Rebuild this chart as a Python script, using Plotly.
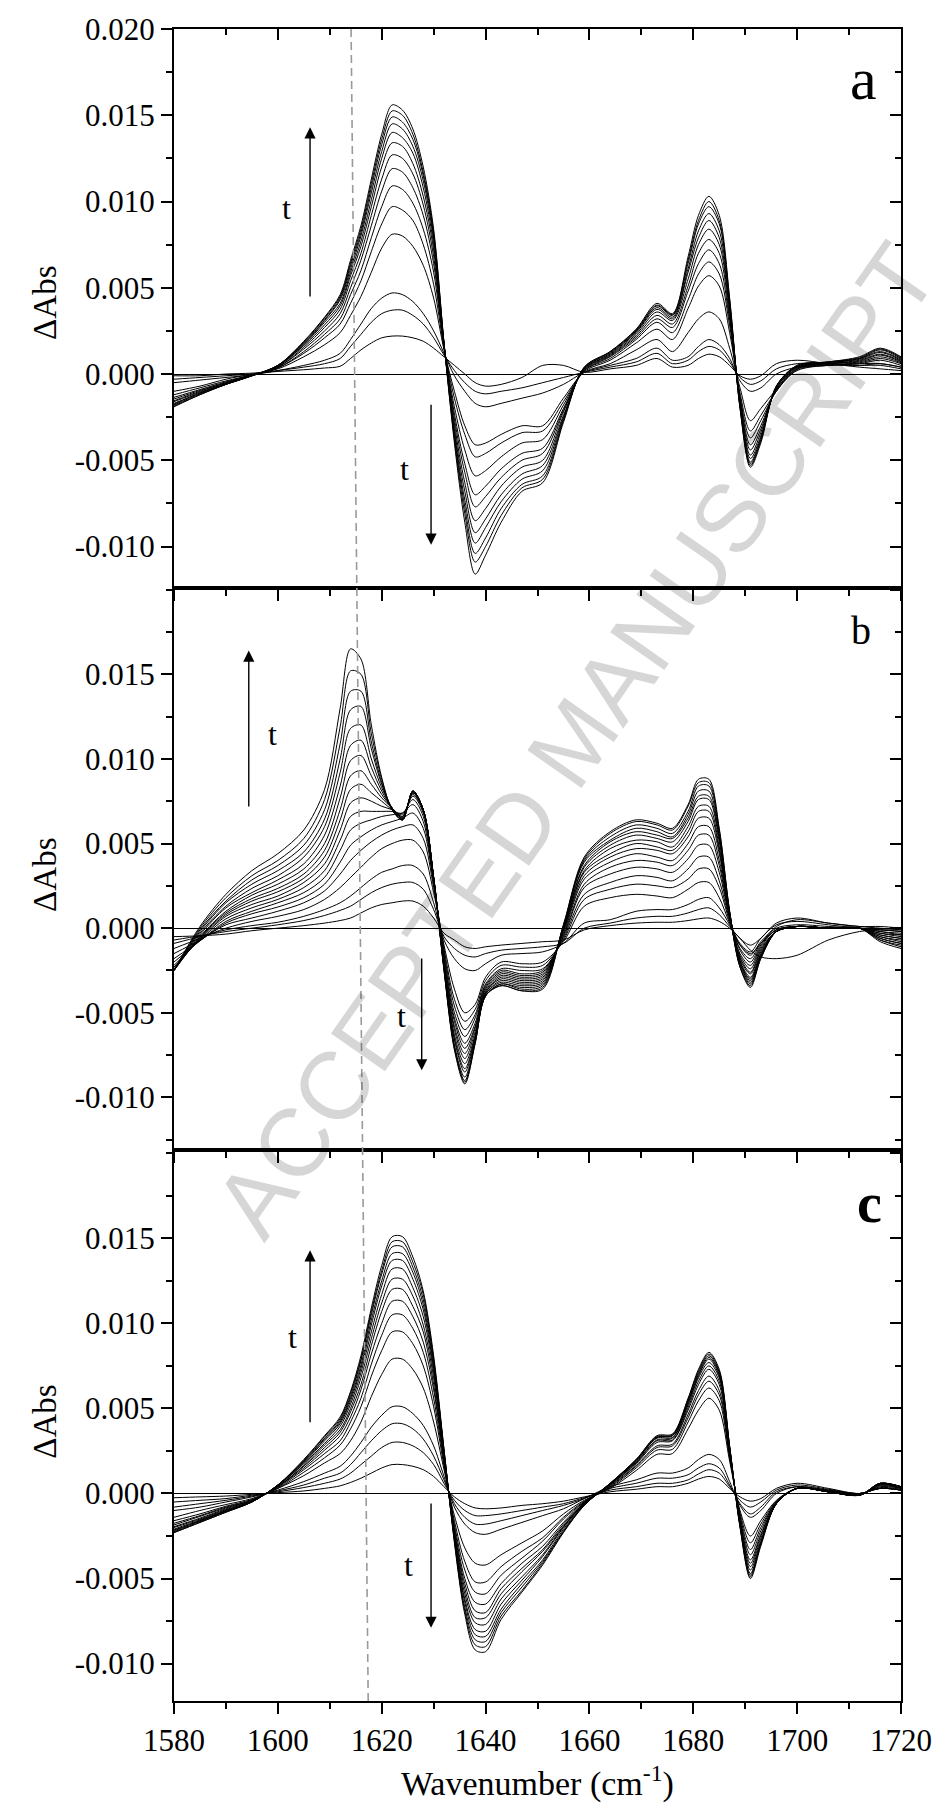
import plotly.graph_objects as go

# ---------------- data (values in units of 1e-3 Abs) ----------------
wavenumber = [1580, 1585, 1590, 1595, 1600, 1605, 1609, 1612, 1614,
              1616, 1618, 1620, 1622, 1624, 1626, 1628, 1630, 1632,
              1634, 1636, 1638, 1640, 1643, 1647, 1651, 1655, 1659,
              1664, 1669, 1673, 1676, 1679, 1681, 1683, 1685, 1687,
              1689, 1691, 1693, 1696, 1700, 1706, 1712, 1716, 1720]

# panel a
a01 = [-0.1, -0.1, 0.0, 0.05, 0.15, 0.25, 0.35, 0.45, 0.9, 1.4, 1.8, 2.1, 2.2, 2.2, 2.1, 1.9, 1.5, 1.0, 0.5, 0.0, -0.5, -0.7, -0.6, -0.2, 0.5, 0.5, 0.1, 0.3, 0.5, 0.9, 0.4, 0.5, 0.9, 1.15, 1.0, 0.5, -0.1, -0.3, -0.1, 0.6, 0.8, 0.6, 0.4, 0.3, 0.2]
a02 = [-0.3, -0.2, -0.1, 0.0, 0.2, 0.4, 0.6, 0.9, 1.6, 2.3, 3.0, 3.5, 3.7, 3.7, 3.4, 2.9, 2.1, 1.1, 0.2, -0.5, -1.0, -1.15, -1.0, -0.8, -0.5, -0.2, 0.1, 0.4, 0.7, 1.2, 0.6, 0.8, 1.3, 1.6, 1.4, 0.7, -0.2, -0.6, -0.4, 0.3, 0.6, 0.6, 0.5, 0.5, 0.3]
a03 = [-0.5, -0.35, -0.2, -0.05, 0.2, 0.5, 0.8, 1.2, 2.0, 2.9, 3.8, 4.4, 4.7, 4.6, 4.2, 3.5, 2.5, 1.2, -0.1, -1.0, -1.7, -1.9, -1.7, -1.4, -1.1, -0.6, 0.1, 0.5, 0.9, 1.5, 0.8, 1.0, 1.6, 2.0, 1.7, 0.9, -0.4, -1.0, -0.8, 0.0, 0.4, 0.5, 0.6, 0.6, 0.4]
a04 = [-1.0, -0.7, -0.3, 0.0, 0.3, 1.0, 1.7, 2.4, 3.4, 4.5, 5.9, 7.3, 8.1, 8.0, 7.4, 6.3, 4.4, 1.4, -1.0, -3.0, -4.1, -4.0, -3.5, -3.0, -3.0, -1.4, 0.1, 0.6, 1.4, 2.0, 1.3, 2.4, 3.2, 3.6, 3.2, 1.5, -0.8, -2.7, -2.0, -0.9, 0.2, 0.5, 0.5, 0.6, 0.4]
a05 = [-1.2, -0.8, -0.4, -0.05, 0.35, 1.2, 2.1, 2.9, 4.1, 5.4, 7.1, 8.7, 9.7, 9.5, 8.9, 7.5, 5.2, 1.5, -1.4, -3.5, -4.8, -4.6, -4.0, -3.4, -3.3, -1.6, 0.15, 0.8, 1.8, 2.6, 2.0, 3.8, 5.1, 5.7, 5.1, 2.4, -1.1, -3.3, -2.4, -1.0, 0.25, 0.5, 0.6, 0.8, 0.5]
a06 = [-1.35, -0.9, -0.45, -0.05, 0.35, 1.3, 2.3, 3.2, 4.6, 6.0, 7.9, 9.7, 10.9, 10.7, 9.9, 8.4, 5.9, 1.55, -1.9, -4.4, -5.9, -5.6, -4.8, -4.0, -3.8, -1.8, 0.2, 0.9, 2.0, 3.0, 2.4, 4.3, 5.8, 6.5, 5.8, 2.8, -1.3, -3.7, -2.7, -1.0, 0.3, 0.55, 0.65, 0.9, 0.6]
a07 = [-1.45, -0.95, -0.5, -0.05, 0.4, 1.45, 2.5, 3.5, 5.0, 6.6, 8.6, 10.6, 11.9, 11.7, 10.8, 9.2, 6.4, 1.6, -2.3, -5.2, -7.0, -6.5, -5.5, -4.6, -4.3, -2.0, 0.2, 1.0, 2.1, 3.2, 2.7, 4.8, 6.4, 7.2, 6.4, 3.1, -1.4, -4.1, -3.0, -0.9, 0.3, 0.6, 0.7, 1.0, 0.65]
a08 = [-1.55, -1.0, -0.5, -0.1, 0.4, 1.55, 2.7, 3.75, 5.4, 7.0, 9.2, 11.3, 12.7, 12.5, 11.6, 9.8, 6.8, 1.65, -2.6, -5.7, -7.7, -7.1, -6.0, -5.0, -4.6, -2.1, 0.25, 1.05, 2.2, 3.4, 2.9, 5.1, 7.0, 7.8, 7.0, 3.3, -1.5, -4.4, -3.2, -0.9, 0.35, 0.6, 0.75, 1.1, 0.7]
a09 = [-1.6, -1.05, -0.55, -0.1, 0.45, 1.65, 2.85, 3.95, 5.7, 7.4, 9.7, 12.0, 13.4, 13.2, 12.2, 10.3, 7.2, 1.7, -2.9, -6.3, -8.5, -7.8, -6.5, -5.4, -5.0, -2.2, 0.3, 1.1, 2.3, 3.6, 3.1, 5.5, 7.5, 8.4, 7.5, 3.6, -1.6, -4.7, -3.4, -0.8, 0.4, 0.6, 0.8, 1.15, 0.75]
a10 = [-1.7, -1.1, -0.55, -0.1, 0.45, 1.7, 3.0, 4.1, 5.9, 7.7, 10.1, 12.5, 14.0, 13.7, 12.8, 10.8, 7.5, 1.7, -3.2, -6.8, -9.2, -8.4, -7.0, -5.8, -5.3, -2.4, 0.3, 1.15, 2.4, 3.75, 3.2, 5.9, 7.9, 8.9, 7.9, 3.8, -1.7, -4.9, -3.6, -0.8, 0.4, 0.65, 0.85, 1.25, 0.8]
a11 = [-1.75, -1.1, -0.6, -0.1, 0.5, 1.75, 3.1, 4.3, 6.1, 8.0, 10.5, 12.9, 14.5, 14.2, 13.2, 11.2, 7.8, 1.75, -3.4, -7.3, -9.8, -8.9, -7.4, -6.1, -5.6, -2.5, 0.35, 1.2, 2.45, 3.85, 3.3, 6.1, 8.3, 9.3, 8.3, 4.0, -1.8, -5.1, -3.7, -0.8, 0.45, 0.65, 0.9, 1.3, 0.85]
a12 = [-1.8, -1.15, -0.6, -0.1, 0.5, 1.8, 3.15, 4.4, 6.3, 8.2, 10.8, 13.3, 14.9, 14.6, 13.6, 11.5, 8.0, 1.75, -3.6, -7.7, -10.4, -9.5, -7.8, -6.4, -5.9, -2.6, 0.35, 1.25, 2.5, 3.95, 3.4, 6.4, 8.7, 9.7, 8.7, 4.1, -1.9, -5.2, -3.8, -0.7, 0.45, 0.7, 0.9, 1.4, 0.9]
a13 = [-1.85, -1.2, -0.6, -0.1, 0.5, 1.85, 3.25, 4.5, 6.45, 8.4, 11.05, 13.6, 15.25, 15.0, 13.9, 11.7, 8.2, 1.8, -3.8, -8.1, -10.9, -10.0, -8.2, -6.6, -6.1, -2.7, 0.4, 1.3, 2.55, 4.0, 3.45, 6.6, 8.9, 10.0, 8.9, 4.3, -1.95, -5.3, -3.9, -0.7, 0.5, 0.7, 0.95, 1.45, 0.95]
a14 = [-1.9, -1.2, -0.6, -0.1, 0.5, 1.9, 3.3, 4.6, 6.6, 8.6, 11.3, 13.9, 15.6, 15.3, 14.2, 12.0, 8.4, 1.8, -4.0, -8.6, -11.6, -10.5, -8.6, -6.8, -6.3, -2.8, 0.4, 1.3, 2.6, 4.1, 3.5, 6.8, 9.2, 10.3, 9.2, 4.4, -2.0, -5.4, -4.0, -0.7, 0.5, 0.7, 1.0, 1.5, 1.0]

# panel b
b01 = [-0.5, -0.45, -0.35, -0.15, 0.0, 0.15, 0.3, 0.45, 0.6, 0.9, 1.2, 1.4, 1.5, 1.6, 1.6, 1.3, 0.6, -0.3, -0.7, -1.1, -1.2, -1.1, -1.0, -0.9, -0.8, -0.7, -0.1, 0.15, 0.3, 0.35, 0.35, 0.45, 0.55, 0.6, 0.4, 0.0, -0.6, -1.3, -1.7, -1.8, -1.6, -0.7, -0.2, -0.1, -0.2]
b02 = [-0.7, -0.45, -0.2, 0.0, 0.2, 0.45, 0.75, 1.05, 1.3, 1.7, 2.1, 2.4, 2.6, 2.7, 2.7, 2.3, 1.1, -0.5, -1.2, -1.6, -1.7, -1.5, -1.3, -1.2, -1.1, -0.9, 0.0, 0.3, 0.6, 0.7, 0.7, 0.9, 1.1, 1.2, 0.8, 0.1, -0.6, -1.0, -0.6, 0.3, 0.6, 0.3, 0.1, 0.1, 0.0]
b03 = [-0.9, -0.5, -0.1, 0.15, 0.35, 0.7, 1.1, 1.5, 1.9, 2.4, 2.9, 3.3, 3.5, 3.7, 3.7, 3.2, 1.5, -0.7, -1.8, -2.4, -2.5, -2.1, -1.6, -1.5, -1.4, -0.9, 0.3, 0.5, 1.0, 1.1, 1.1, 1.4, 1.7, 1.8, 1.2, 0.2, -1.0, -1.5, -0.9, 0.1, 0.5, 0.3, 0.1, 0.0, -0.1]
b04 = [-1.2, -0.6, 0.0, 0.4, 0.7, 1.1, 1.7, 2.4, 3.0, 3.6, 4.2, 4.7, 5.0, 5.2, 5.2, 4.5, 2.1, -1.0, -3.6, -5.0, -4.5, -2.9, -2.0, -2.1, -2.0, -0.8, 1.3, 1.8, 2.0, 1.9, 1.8, 2.3, 2.7, 2.7, 1.8, 0.3, -0.9, -1.4, -0.6, 0.2, 0.4, 0.2, 0.0, -0.1, -0.1]
b05 = [-1.5, -0.7, 0.2, 0.6, 1.0, 1.5, 2.2, 3.2, 4.0, 4.6, 5.1, 5.5, 5.8, 6.0, 6.1, 5.3, 2.4, -1.2, -4.2, -5.5, -4.8, -3.1, -2.2, -2.3, -2.2, -0.7, 1.7, 2.3, 2.6, 2.5, 2.4, 2.9, 3.5, 3.5, 2.4, 0.4, -1.0, -1.6, -0.8, 0.0, 0.2, 0.1, 0.0, -0.1, -0.2]
b06 = [-1.8, -0.75, 0.3, 0.85, 1.25, 1.8, 2.6, 3.9, 4.9, 5.4, 5.8, 6.1, 6.3, 6.5, 6.8, 5.9, 2.6, -1.4, -4.6, -6.0, -5.1, -3.3, -2.4, -2.5, -2.4, -0.6, 2.0, 2.7, 3.1, 3.0, 2.8, 3.5, 4.2, 4.2, 2.8, 0.5, -1.2, -1.8, -0.9, -0.1, 0.1, 0.0, 0.0, -0.2, -0.3]
b07 = [-2.0, -0.75, 0.4, 1.0, 1.5, 2.1, 3.0, 4.6, 5.8, 6.2, 6.4, 6.6, 6.7, 6.8, 7.3, 6.3, 2.7, -1.6, -5.0, -6.4, -5.3, -3.4, -2.5, -2.7, -2.5, -0.5, 2.4, 3.2, 3.6, 3.5, 3.3, 4.1, 4.9, 4.9, 3.3, 0.6, -1.3, -2.0, -1.0, -0.1, 0.1, 0.0, 0.0, -0.2, -0.4]
b08 = [-2.2, -0.7, 0.55, 1.2, 1.7, 2.4, 3.4, 5.2, 6.6, 6.9, 6.9, 6.9, 6.9, 6.8, 7.6, 6.6, 2.8, -1.8, -5.3, -6.8, -5.6, -3.5, -2.6, -2.8, -2.6, -0.4, 2.6, 3.6, 4.0, 3.9, 3.7, 4.6, 5.5, 5.5, 3.7, 0.6, -1.5, -2.2, -1.1, -0.1, 0.1, 0.0, 0.0, -0.3, -0.4]
b09 = [-2.3, -0.65, 0.7, 1.4, 1.9, 2.7, 3.8, 5.8, 7.4, 7.7, 7.5, 7.2, 7.0, 6.7, 7.8, 6.8, 2.9, -2.0, -5.5, -7.1, -5.8, -3.6, -2.7, -2.9, -2.7, -0.3, 2.9, 3.9, 4.4, 4.2, 4.0, 5.0, 6.0, 6.0, 4.0, 0.7, -1.6, -2.4, -1.2, -0.2, 0.1, 0.0, 0.0, -0.3, -0.5]
b10 = [-2.4, -0.6, 0.8, 1.6, 2.15, 2.95, 4.2, 6.4, 8.2, 8.5, 8.0, 7.5, 7.0, 6.6, 7.9, 6.9, 2.9, -2.1, -5.8, -7.4, -5.9, -3.7, -2.8, -3.0, -2.8, -0.2, 3.1, 4.2, 4.7, 4.6, 4.4, 5.4, 6.5, 6.5, 4.4, 0.7, -1.7, -2.6, -1.3, -0.2, 0.1, 0.0, 0.0, -0.4, -0.6]
b11 = [-2.5, -0.55, 0.9, 1.75, 2.35, 3.2, 4.6, 7.0, 9.0, 9.3, 8.5, 7.7, 7.1, 6.6, 8.0, 7.0, 3.0, -2.2, -6.0, -7.7, -6.1, -3.8, -2.9, -3.1, -2.9, -0.1, 3.3, 4.4, 5.0, 4.8, 4.6, 5.7, 6.9, 6.9, 4.6, 0.8, -1.8, -2.7, -1.4, -0.2, 0.1, 0.0, 0.0, -0.4, -0.6]
b12 = [-2.5, -0.5, 1.0, 1.95, 2.6, 3.5, 5.0, 7.7, 9.9, 10.2, 9.0, 7.9, 7.1, 6.5, 8.0, 7.0, 3.0, -2.2, -6.3, -8.0, -6.3, -3.8, -3.0, -3.2, -3.0, -0.1, 3.4, 4.7, 5.2, 5.1, 4.8, 6.0, 7.2, 7.2, 4.8, 0.8, -1.9, -2.9, -1.5, -0.2, 0.1, 0.0, 0.0, -0.5, -0.7]
b13 = [-2.5, -0.4, 1.2, 2.1, 2.85, 3.8, 5.5, 8.4, 10.8, 11.1, 9.5, 8.1, 7.1, 6.5, 8.0, 7.0, 3.0, -2.3, -6.5, -8.3, -6.4, -3.9, -3.1, -3.3, -3.1, 0.0, 3.6, 4.9, 5.5, 5.3, 5.1, 6.3, 7.6, 7.6, 5.1, 0.9, -2.0, -3.0, -1.6, -0.2, 0.1, 0.0, 0.0, -0.5, -0.8]
b14 = [-2.5, -0.3, 1.3, 2.35, 3.1, 4.2, 6.0, 9.2, 11.8, 12.0, 10.0, 8.3, 7.1, 6.5, 8.1, 7.0, 3.0, -2.3, -6.6, -8.5, -6.5, -3.9, -3.2, -3.4, -3.2, 0.0, 3.7, 5.1, 5.7, 5.5, 5.3, 6.5, 7.8, 7.8, 5.3, 0.9, -2.0, -3.1, -1.6, -0.2, 0.1, 0.0, 0.0, -0.6, -0.9]
b15 = [-2.5, -0.2, 1.5, 2.6, 3.4, 4.5, 6.45, 10.0, 12.9, 13.1, 10.6, 8.5, 7.1, 6.4, 8.1, 7.0, 3.0, -2.4, -6.9, -8.8, -6.6, -4.0, -3.3, -3.5, -3.3, 0.1, 3.9, 5.2, 5.9, 5.7, 5.4, 6.7, 8.1, 8.1, 5.4, 0.9, -2.1, -3.2, -1.7, -0.2, 0.1, 0.0, 0.0, -0.6, -0.9]
b16 = [-2.5, -0.1, 1.6, 2.85, 3.7, 4.9, 7.0, 10.9, 14.0, 14.0, 11.0, 8.6, 7.0, 6.4, 8.1, 7.0, 3.0, -2.4, -7.0, -9.0, -6.7, -4.0, -3.3, -3.6, -3.4, 0.1, 4.0, 5.4, 6.1, 5.9, 5.6, 6.9, 8.4, 8.4, 5.6, 0.9, -2.2, -3.3, -1.7, -0.2, 0.1, 0.0, 0.0, -0.7, -1.0]
b17 = [-2.5, 0.0, 1.8, 3.1, 4.0, 5.3, 7.6, 11.9, 15.2, 15.0, 11.5, 8.8, 7.0, 6.4, 8.1, 7.0, 3.0, -2.5, -7.1, -9.1, -6.8, -4.0, -3.4, -3.7, -3.5, 0.2, 4.1, 5.6, 6.3, 6.1, 5.8, 7.2, 8.6, 8.6, 5.8, 1.0, -2.3, -3.4, -1.8, -0.2, 0.1, 0.0, 0.0, -0.7, -1.1]
b18 = [-2.5, 0.1, 2.0, 3.4, 4.4, 5.8, 8.2, 13.0, 16.5, 15.9, 12.0, 8.9, 7.0, 6.4, 8.1, 7.0, 3.0, -2.5, -7.2, -9.2, -6.8, -4.0, -3.4, -3.7, -3.6, 0.2, 4.2, 5.7, 6.4, 6.2, 5.9, 7.3, 8.8, 8.8, 5.9, 1.0, -2.3, -3.5, -1.8, -0.2, 0.1, 0.0, 0.0, -0.8, -1.2]

# panel c
c01 = [-0.25, -0.2, -0.15, -0.05, 0.05, 0.15, 0.3, 0.45, 0.65, 0.9, 1.2, 1.5, 1.7, 1.7, 1.6, 1.4, 1.0, 0.4, -0.2, -0.6, -0.85, -0.9, -0.85, -0.7, -0.6, -0.45, -0.2, 0.1, 0.25, 0.4, 0.4, 0.6, 0.85, 1.0, 0.85, 0.3, -0.2, -0.45, -0.3, 0.3, 0.6, 0.3, 0.0, 0.3, 0.2]
c02 = [-0.5, -0.4, -0.3, -0.1, 0.1, 0.35, 0.6, 0.85, 1.2, 1.7, 2.2, 2.7, 3.0, 3.0, 2.8, 2.4, 1.7, 0.6, -0.4, -1.0, -1.3, -1.3, -1.2, -1.0, -0.8, -0.6, -0.25, 0.2, 0.4, 0.6, 0.6, 0.8, 1.15, 1.4, 1.2, 0.4, -0.4, -0.8, -0.5, 0.2, 0.5, 0.25, 0.0, 0.3, 0.2]
c03 = [-0.8, -0.6, -0.4, -0.15, 0.15, 0.5, 0.9, 1.2, 1.7, 2.4, 3.1, 3.7, 4.1, 4.1, 3.8, 3.2, 2.2, 0.8, -0.6, -1.4, -1.8, -1.8, -1.6, -1.3, -1.0, -0.7, -0.3, 0.3, 0.6, 0.9, 0.9, 1.1, 1.5, 1.75, 1.5, 0.5, -0.6, -1.2, -0.8, 0.1, 0.4, 0.2, 0.0, 0.3, 0.2]
c04 = [-1.0, -0.8, -0.5, -0.2, 0.2, 0.7, 1.2, 1.6, 2.2, 3.0, 3.9, 4.6, 5.1, 5.1, 4.7, 4.0, 2.8, 1.0, -0.8, -1.8, -2.3, -2.4, -2.1, -1.7, -1.3, -0.9, -0.3, 0.4, 0.8, 1.2, 1.2, 1.5, 2.0, 2.3, 2.0, 0.7, -0.7, -1.4, -1.0, 0.0, 0.4, 0.2, 0.0, 0.3, 0.2]
c05 = [-1.4, -1.0, -0.65, -0.3, 0.3, 1.05, 1.8, 2.35, 3.1, 4.2, 5.7, 7.0, 7.9, 7.9, 7.3, 6.2, 4.2, 1.4, -1.3, -3.2, -4.1, -4.2, -3.6, -2.9, -2.2, -1.2, -0.4, 0.3, 1.35, 2.3, 2.35, 3.8, 4.9, 5.6, 4.9, 1.9, -1.0, -2.5, -1.6, -0.4, 0.3, 0.15, -0.05, 0.35, 0.25]
c06 = [-1.6, -1.2, -0.75, -0.35, 0.3, 1.25, 2.1, 2.85, 3.8, 5.1, 6.9, 8.4, 9.5, 9.5, 8.8, 7.5, 5.1, 1.6, -1.6, -4.0, -5.2, -5.2, -4.3, -3.4, -2.6, -1.4, -0.45, 0.35, 1.5, 2.55, 2.6, 4.2, 5.45, 6.2, 5.45, 2.1, -1.15, -2.9, -1.8, -0.45, 0.3, 0.15, -0.05, 0.4, 0.3]
c07 = [-1.75, -1.3, -0.8, -0.4, 0.35, 1.4, 2.35, 3.1, 4.2, 5.6, 7.6, 9.3, 10.5, 10.5, 9.7, 8.3, 5.6, 1.8, -1.85, -4.5, -5.8, -5.9, -4.8, -3.8, -2.8, -1.5, -0.5, 0.4, 1.6, 2.7, 2.8, 4.45, 5.8, 6.6, 5.8, 2.2, -1.3, -3.3, -2.0, -0.5, 0.3, 0.1, -0.1, 0.45, 0.3]
c08 = [-1.85, -1.35, -0.85, -0.4, 0.4, 1.5, 2.55, 3.4, 4.5, 6.1, 8.2, 10.0, 11.3, 11.3, 10.4, 8.9, 6.1, 1.95, -2.0, -5.0, -6.4, -6.5, -5.3, -4.1, -3.1, -1.7, -0.5, 0.45, 1.65, 2.8, 2.9, 4.65, 6.05, 6.9, 6.05, 2.3, -1.4, -3.6, -2.2, -0.5, 0.3, 0.1, -0.1, 0.5, 0.35]
c09 = [-1.95, -1.45, -0.9, -0.4, 0.4, 1.6, 2.7, 3.6, 4.8, 6.4, 8.7, 10.7, 12.0, 12.0, 11.0, 9.5, 6.4, 2.05, -2.2, -5.3, -6.9, -7.0, -5.6, -4.4, -3.3, -1.8, -0.55, 0.5, 1.75, 3.0, 3.1, 4.9, 6.4, 7.3, 6.4, 2.45, -1.55, -3.9, -2.4, -0.55, 0.3, 0.1, -0.1, 0.5, 0.35]
c10 = [-2.0, -1.5, -0.95, -0.45, 0.4, 1.65, 2.85, 3.75, 5.0, 6.8, 9.1, 11.2, 12.6, 12.6, 11.6, 9.9, 6.8, 2.15, -2.3, -5.6, -7.3, -7.3, -5.9, -4.6, -3.4, -1.9, -0.55, 0.5, 1.8, 3.1, 3.15, 5.05, 6.6, 7.5, 6.6, 2.5, -1.6, -4.1, -2.5, -0.55, 0.3, 0.1, -0.1, 0.55, 0.35]
c11 = [-2.1, -1.55, -1.0, -0.45, 0.45, 1.75, 2.95, 3.95, 5.25, 7.1, 9.5, 11.7, 13.2, 13.2, 12.1, 10.4, 7.1, 2.25, -2.4, -5.9, -7.6, -7.7, -6.2, -4.9, -3.6, -1.95, -0.6, 0.55, 1.85, 3.15, 3.25, 5.2, 6.8, 7.7, 6.8, 2.6, -1.7, -4.3, -2.65, -0.6, 0.3, 0.1, -0.1, 0.55, 0.4]
c12 = [-2.15, -1.6, -1.0, -0.45, 0.45, 1.8, 3.1, 4.1, 5.45, 7.35, 9.9, 12.2, 13.7, 13.7, 12.6, 10.8, 7.35, 2.35, -2.55, -6.2, -8.0, -8.1, -6.5, -5.1, -3.7, -2.0, -0.6, 0.55, 1.9, 3.25, 3.3, 5.3, 6.9, 7.9, 6.9, 2.65, -1.8, -4.5, -2.8, -0.6, 0.3, 0.1, -0.1, 0.6, 0.4]
c13 = [-2.2, -1.6, -1.05, -0.5, 0.5, 1.85, 3.2, 4.2, 5.6, 7.55, 10.2, 12.5, 14.1, 14.1, 13.0, 11.1, 7.55, 2.4, -2.6, -6.4, -8.3, -8.4, -6.8, -5.3, -3.9, -2.1, -0.65, 0.55, 1.95, 3.3, 3.4, 5.4, 7.0, 8.0, 7.0, 2.7, -1.85, -4.7, -2.9, -0.6, 0.3, 0.1, -0.1, 0.6, 0.4]
c14 = [-2.25, -1.65, -1.05, -0.5, 0.5, 1.9, 3.25, 4.3, 5.75, 7.8, 10.5, 12.9, 14.5, 14.5, 13.3, 11.4, 7.8, 2.5, -2.7, -6.7, -8.6, -8.7, -7.0, -5.5, -4.0, -2.2, -0.65, 0.6, 1.95, 3.3, 3.4, 5.45, 7.1, 8.1, 7.1, 2.75, -1.9, -4.8, -2.95, -0.6, 0.3, 0.1, -0.1, 0.6, 0.4]
c15 = [-2.3, -1.7, -1.1, -0.5, 0.5, 1.95, 3.35, 4.4, 5.9, 7.9, 10.7, 13.1, 14.8, 14.8, 13.6, 11.7, 7.9, 2.55, -2.8, -6.9, -8.9, -9.0, -7.2, -5.7, -4.1, -2.25, -0.7, 0.6, 2.0, 3.35, 3.45, 5.55, 7.2, 8.2, 7.2, 2.75, -1.95, -4.9, -3.0, -0.6, 0.3, 0.1, -0.1, 0.6, 0.4]
c16 = [-2.3, -1.7, -1.1, -0.5, 0.5, 2.0, 3.4, 4.5, 6.0, 8.1, 10.9, 13.4, 15.1, 15.1, 13.9, 11.9, 8.1, 2.6, -2.9, -7.1, -9.2, -9.3, -7.4, -5.8, -4.2, -2.3, -0.7, 0.6, 2.0, 3.4, 3.5, 5.6, 7.3, 8.3, 7.3, 2.8, -2.0, -5.0, -3.1, -0.6, 0.3, 0.1, -0.1, 0.6, 0.4]

panel_a = [a01, a02, a03, a04, a05, a06, a07, a08, a09, a10, a11, a12, a13, a14]
panel_b = [b01, b02, b03, b04, b05, b06, b07, b08, b09, b10, b11, b12, b13, b14, b15, b16, b17, b18]
panel_c = [c01, c02, c03, c04, c05, c06, c07, c08, c09, c10, c11, c12, c13, c14, c15, c16]

for grp in (panel_a, panel_b, panel_c):
    for row in grp:
        assert len(row) == len(wavenumber), len(row)

panel_letters = ["a", "b", "<b>c</b>"]
letter_pos_x = [1712.8, 1712.2, 1713.9]
letter_pos_y = [17.1, 17.6, 17.1]           # 1e-3 Abs
letter_size = [60, 40, 56]

# time arrows (1e-3 Abs)
up_x = [1606.2, 1594.4, 1606.2]
up_tail = [4.4, 7.1, 4.1]
up_head = [14.3, 16.4, 14.3]
up_t_x = [1601.7, 1598.9, 1602.9]
up_t_y = [9.6, 11.5, 9.2]
dn_x = [1629.5, 1627.7, 1629.5]
dn_tail = [-1.7, -1.7, -0.5]
dn_head = [-9.9, -8.4, -7.9]
dn_t_x = [1624.3, 1623.9, 1625.2]
dn_t_y = [-5.5, -5.2, -4.2]

# dashed reference line (wavenumber at top of panel a / bottom of panel c)
dash_x_top = 1614.1
dash_x_bottom = 1617.4

# watermark words and their centres (paper coordinates)
watermark_words = ["ACCEPTED", "MANUSCRIPT"]
watermark_x = [0.293, 0.7666]
watermark_y = [0.4127, 0.7093]

x_major = [1580, 1600, 1620, 1640, 1660, 1680, 1700, 1720]
x_labels = ["1580", "1600", "1620", "1640", "1660", "1680", "1700", "1720"]
y_major = [-0.010, -0.005, 0.000, 0.005, 0.010, 0.015, 0.020]
y_labels = ["-0.010", "-0.005", "0.000", "0.005", "0.010", "0.015", "0.020"]
y_ranges = [[-0.0124, 0.0200], [-0.0131, 0.0201], [-0.0122, 0.0202]]
domains = [[0.6657, 1.0], [0.3296, 0.6657], [0.0, 0.3296]]
title_y = [0.8361, 0.4940, 0.1669]

SERIF = "Liberation Serif, Times New Roman, Times, serif"

# ---------------- figure ----------------
fig = go.Figure()
panels = [panel_a, panel_b, panel_c]
for i, grp in enumerate(panels):
    xa = "x" if i == 0 else "x%d" % (i + 1)
    ya = "y" if i == 0 else "y%d" % (i + 1)
    for row in grp:
        fig.add_trace(go.Scatter(
            x=wavenumber, y=[v / 1000.0 for v in row], mode="lines",
            line=dict(color="black", width=1, shape="spline", smoothing=0.9),
            xaxis=xa, yaxis=ya, showlegend=False, hoverinfo="skip"))
    # empty trace that hosts the inward-tick mirror axes
    fig.add_trace(go.Scatter(x=[None], y=[None], mode="lines",
                             xaxis="x%d" % (i + 4), yaxis="y%d" % (i + 4),
                             showlegend=False, hoverinfo="skip"))

layout = dict(
    width=944, height=1815,
    margin=dict(l=174, r=36, t=29, b=114),
    paper_bgcolor="white", plot_bgcolor="white",
    font=dict(family=SERIF, color="black"),
    showlegend=False,
)

for i in range(3):
    xk = "xaxis" if i == 0 else "xaxis%d" % (i + 1)
    yk = "yaxis" if i == 0 else "yaxis%d" % (i + 1)
    yid = "y" if i == 0 else "y%d" % (i + 1)
    xid = "x" if i == 0 else "x%d" % (i + 1)
    layout[xk] = dict(
        domain=[0, 1], anchor=yid, range=[1580, 1720],
        showline=True, linewidth=2, linecolor="black", mirror=True,
        ticks="outside", ticklen=11, tickwidth=2, tickcolor="black",
        tickmode="array", tickvals=x_major, ticktext=x_labels,
        minor=dict(tickmode="linear", tick0=1580, dtick=10, ticks="outside",
                   ticklen=6, tickwidth=1.5, tickcolor="black", showgrid=False),
        showticklabels=(i == 2), tickfont=dict(family=SERIF, size=31, color="black"),
        showgrid=False, zeroline=False,
    )
    nlab = 7 if i == 0 else 6
    layout[yk] = dict(
        domain=domains[i], anchor=xid, range=y_ranges[i],
        showline=True, linewidth=2, linecolor="black", mirror=True,
        ticks="outside", ticklen=11, tickwidth=2, tickcolor="black",
        tickmode="array", tickvals=y_major[:nlab], ticktext=y_labels[:nlab],
        minor=dict(tickmode="linear", tick0=0, dtick=0.0025, ticks="outside",
                   ticklen=6, tickwidth=1.5, tickcolor="black", showgrid=False),
        tickfont=dict(family=SERIF, size=31, color="black"),
        showgrid=False, zeroline=True, zerolinecolor="black", zerolinewidth=1,
    )
    # mirror axes with inward ticks (top / right)
    layout["xaxis%d" % (i + 4)] = dict(
        overlaying=xid, anchor=yid, side="top", range=[1580, 1720],
        showline=False, ticks="inside", ticklen=11, tickwidth=2, tickcolor="black",
        tickmode="array", tickvals=x_major,
        minor=dict(tickmode="linear", tick0=1580, dtick=10, ticks="inside",
                   ticklen=6, tickwidth=1.5, tickcolor="black", showgrid=False),
        showticklabels=False, showgrid=False, zeroline=False,
    )
    layout["yaxis%d" % (i + 4)] = dict(
        overlaying=yid, anchor=xid, side="right", range=y_ranges[i],
        showline=False, ticks="inside", ticklen=11, tickwidth=2, tickcolor="black",
        tickmode="array", tickvals=y_major,
        minor=dict(tickmode="linear", tick0=0, dtick=0.0025, ticks="inside",
                   ticklen=6, tickwidth=1.5, tickcolor="black", showgrid=False),
        showticklabels=False, showgrid=False, zeroline=False,
    )

annotations = []
for i in range(3):
    xid = "x" if i == 0 else "x%d" % (i + 1)
    yid = "y" if i == 0 else "y%d" % (i + 1)
    annotations.append(dict(
        x=letter_pos_x[i], y=letter_pos_y[i] / 1000.0, xref=xid, yref=yid,
        text=panel_letters[i], showarrow=False, xanchor="center", yanchor="middle",
        font=dict(family=SERIF, size=letter_size[i], color="black")))
    for (ax_, tail, head) in ((up_x[i], up_tail[i], up_head[i]),
                              (dn_x[i], dn_tail[i], dn_head[i])):
        annotations.append(dict(
            x=ax_, y=head / 1000.0, ax=ax_, ay=tail / 1000.0,
            xref=xid, yref=yid, axref=xid, ayref=yid, text="",
            showarrow=True, arrowhead=2, arrowsize=1.6, arrowwidth=1.4,
            arrowcolor="black", standoff=0, startstandoff=0))
    for (tx, ty) in ((up_t_x[i], up_t_y[i]), (dn_t_x[i], dn_t_y[i])):
        annotations.append(dict(
            x=tx, y=ty / 1000.0, xref=xid, yref=yid, text="t", showarrow=False,
            xanchor="center", yanchor="middle",
            font=dict(family=SERIF, size=32, color="black")))
    annotations.append(dict(
        x=-0.1776, y=title_y[i], xref="paper", yref="paper", text="\u0394Abs",
        textangle=-90, showarrow=False, xanchor="center", yanchor="middle",
        font=dict(family=SERIF, size=33, color="black")))

annotations.append(dict(
    x=0.5, y=-0.0484, xref="paper", yref="paper",
    text="Wavenumber (cm<sup>-1</sup>)", showarrow=False,
    xanchor="center", yanchor="middle",
    font=dict(family=SERIF, size=34, color="black")))

for word, wx, wy in zip(watermark_words, watermark_x, watermark_y):
    annotations.append(dict(
        x=wx, y=wy, xref="paper", yref="paper", text=word,
        textangle=-55, showarrow=False, xanchor="center", yanchor="middle",
        font=dict(family="Liberation Sans, Arial, sans-serif", size=96,
                  color="rgba(0,0,0,0.16)")))

layout["annotations"] = annotations
layout["shapes"] = [dict(
    type="line", xref="x", yref="paper",
    x0=dash_x_top, x1=dash_x_bottom, y0=1.0, y1=0.0,
    line=dict(color="#9a9a9a", width=1.6, dash="8px,5px"))]

fig.update_layout(**layout)
fig.write_html(
    "out.html",
    config={"displayModeBar": False},
    post_script="document.body.style.margin='0';document.body.style.padding='0';"
                "document.body.style.overflow='hidden';")
